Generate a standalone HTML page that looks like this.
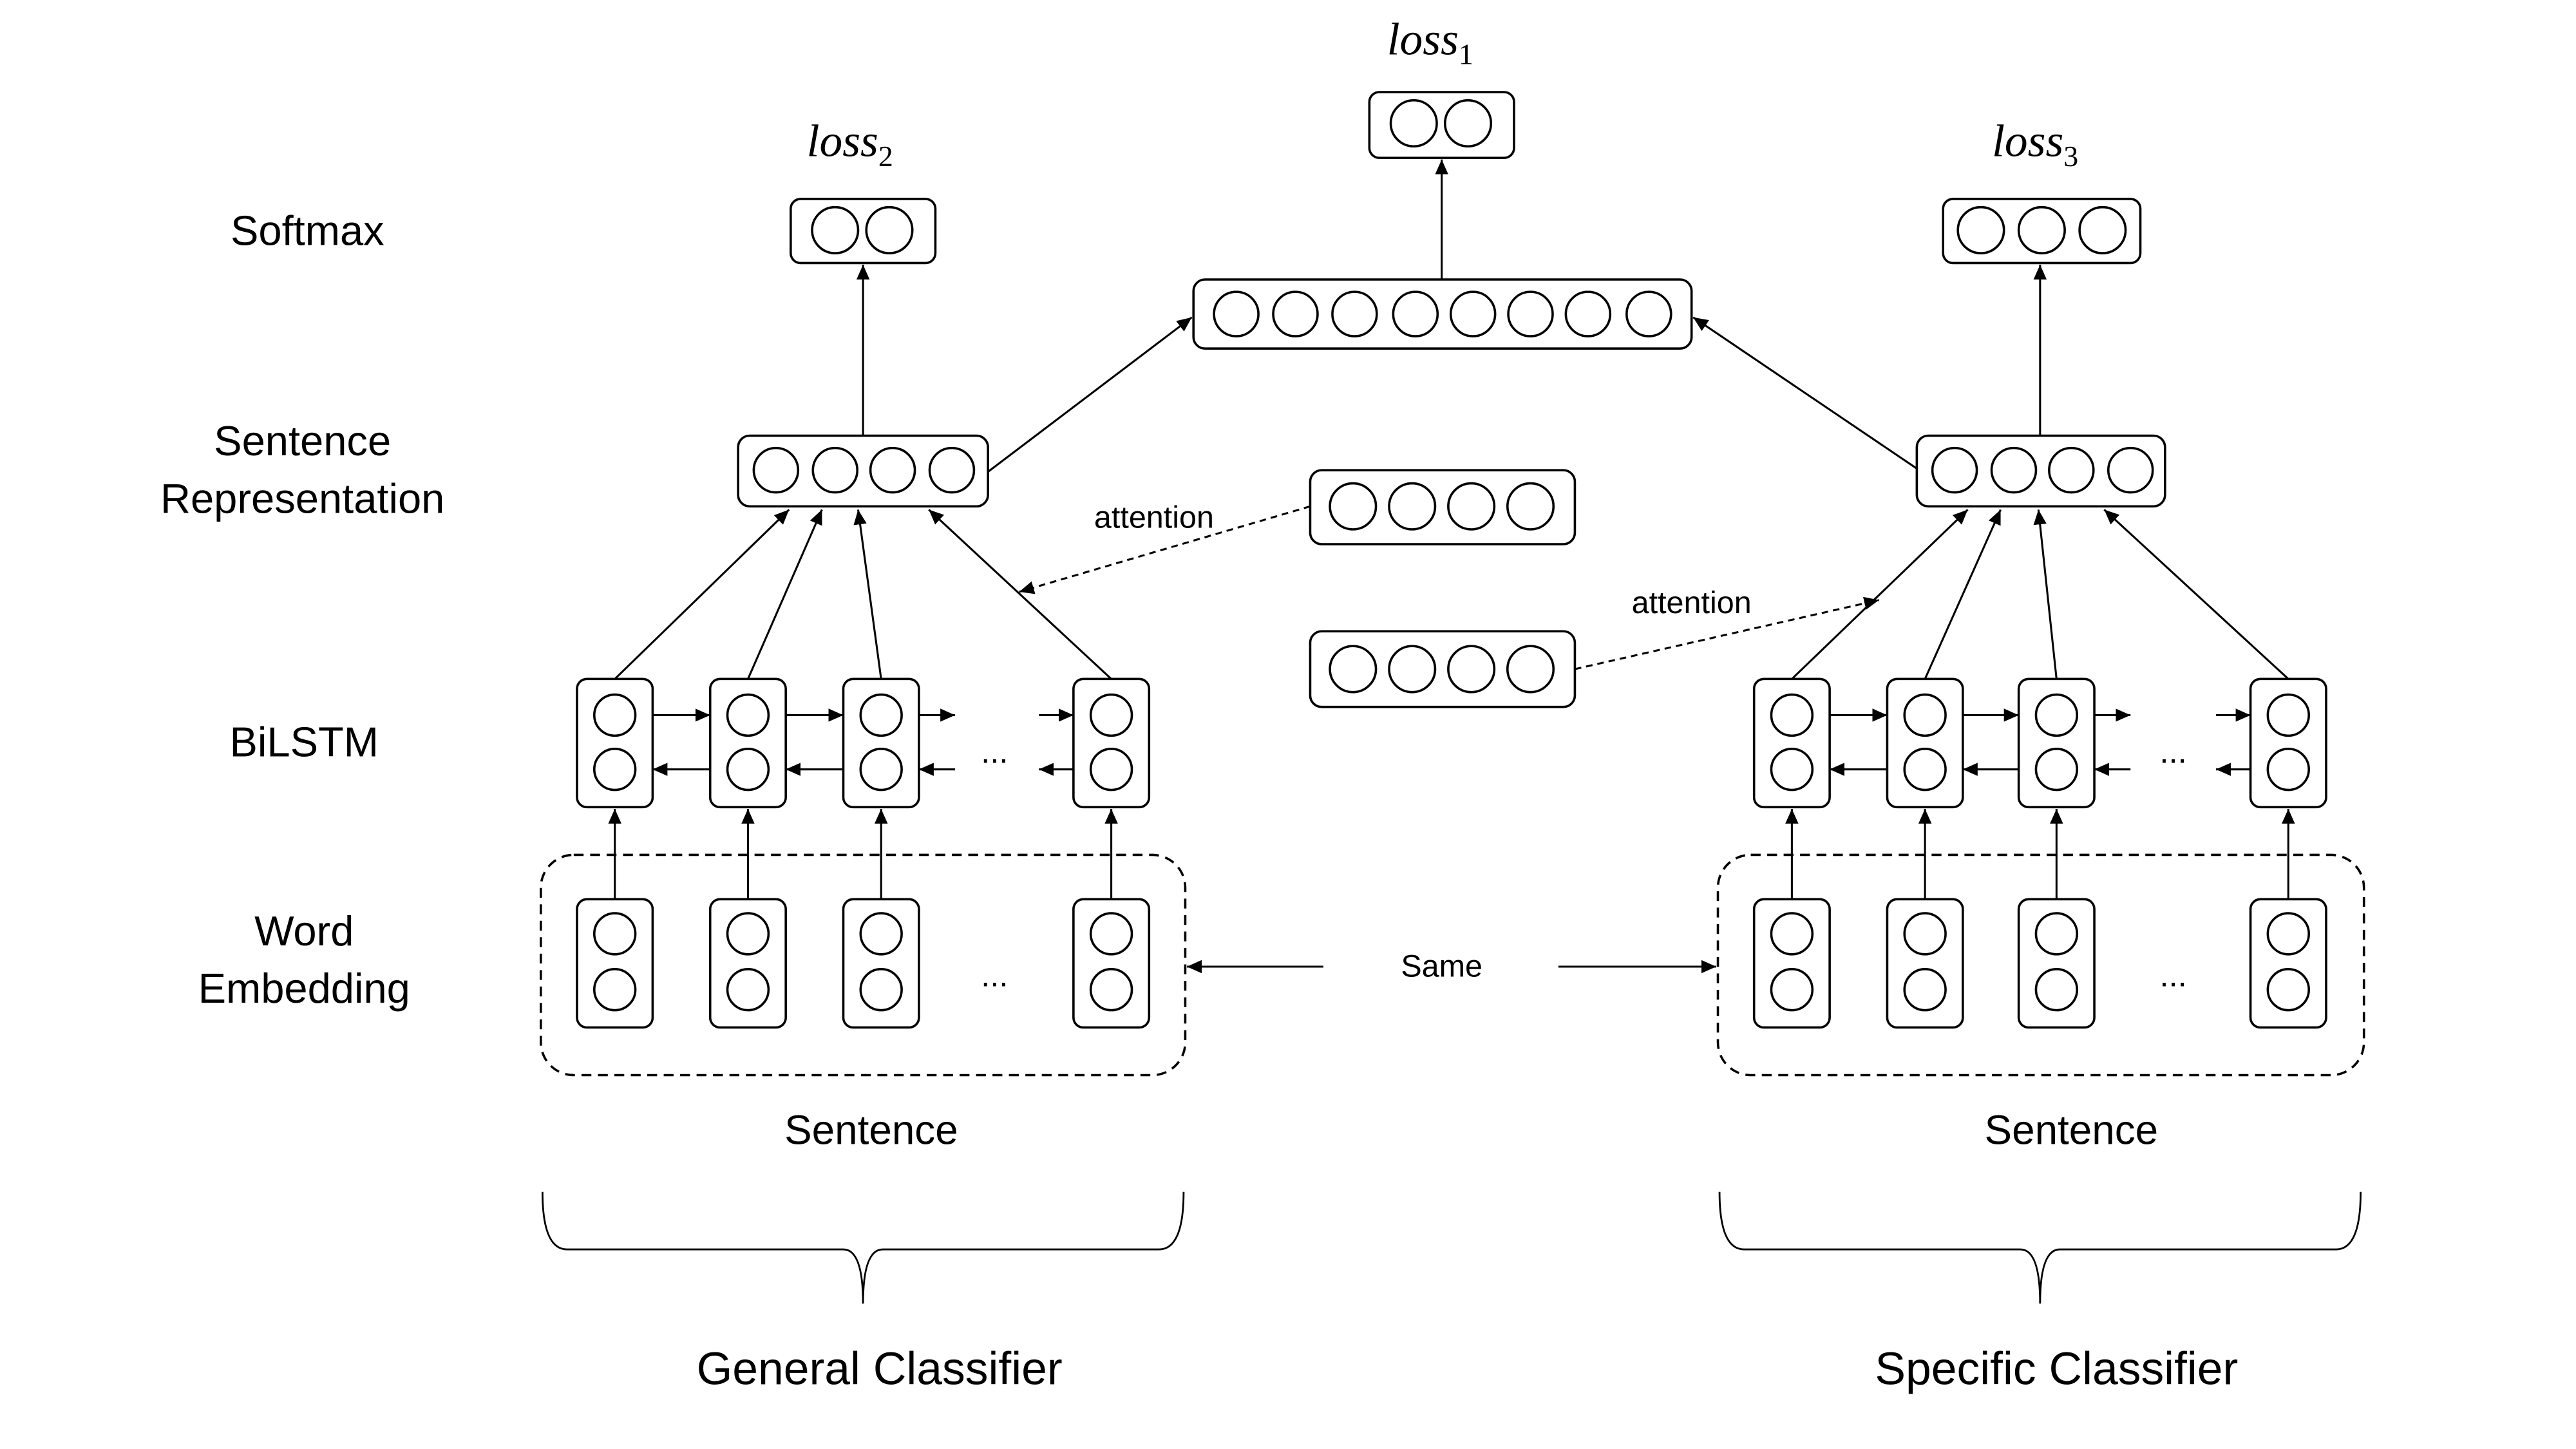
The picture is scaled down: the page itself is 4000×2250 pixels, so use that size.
<!DOCTYPE html>
<html><head><meta charset="utf-8"><style>html,body{margin:0;padding:0;background:#fff}svg{display:block}</style></head>
<body>
<svg width="4000" height="2250" viewBox="0 0 1567 881.4" xmlns="http://www.w3.org/2000/svg">
<defs>
<marker id="a" markerWidth="10" markerHeight="10" refX="9" refY="4" orient="auto" markerUnits="userSpaceOnUse">
<path d="M0,0 L9,4 L0,8 z" fill="#000"/></marker>
</defs>
<rect width="1567" height="882" fill="#fff"/>
<g font-family="Liberation Sans, sans-serif" font-size="25.5" text-anchor="middle" fill="#000">
<text x="187" y="149">Softmax</text>
<text x="184" y="277">Sentence</text>
<text x="184" y="312">Representation</text>
<text x="185" y="460">BiLSTM</text>
<text x="185" y="575">Word</text>
<text x="185" y="610">Embedding</text>
<text x="530" y="696" font-size="25">Sentence</text>
<text x="1260" y="696" font-size="25">Sentence</text>
<text x="535" y="842" font-size="28">General Classifier</text>
<text x="1251" y="842" font-size="28">Specific Classifier</text>
<text x="702" y="321" font-size="19">attention</text>
<text x="1029" y="373" font-size="19">attention</text>
<text x="877" y="594" font-size="19">Same</text>
<text x="605" y="464" font-size="20">...</text>
<text x="605" y="600" font-size="20">...</text>
<text x="1322" y="464" font-size="20">...</text>
<text x="1322" y="600" font-size="20">...</text>
</g>
<g font-family="Liberation Serif, serif" font-style="italic" font-size="28" text-anchor="middle">
<text x="870" y="33">loss<tspan font-size="18" font-style="normal" dy="6">1</tspan></text>
<text x="517" y="95">loss<tspan font-size="18" font-style="normal" dy="6">2</tspan></text>
<text x="1238" y="95">loss<tspan font-size="18" font-style="normal" dy="6">3</tspan></text>
</g>
<g fill="none" stroke="#000" stroke-width="1.4">
<rect x="833" y="56" width="88" height="40" rx="6"/>
<rect x="481" y="121" width="88" height="39" rx="6"/>
<rect x="1182" y="121" width="120" height="39" rx="6"/>
<rect x="726" y="170" width="303" height="42" rx="7"/>
<rect x="449" y="265" width="152" height="43" rx="7"/>
<rect x="1166" y="265" width="151" height="43" rx="7"/>
<rect x="797" y="286" width="161" height="45" rx="7"/>
<rect x="797" y="384" width="161" height="46" rx="7"/>
<rect x="329" y="520" width="392" height="134" rx="20" stroke-dasharray="6,4"/>
<rect x="1045" y="520" width="393" height="134" rx="20" stroke-dasharray="6,4"/>
<circle cx="860" cy="75" r="14"/><circle cx="893" cy="75" r="14"/>
<circle cx="508" cy="140" r="14"/><circle cx="541" cy="140" r="14"/>
<circle cx="1205" cy="140" r="14"/><circle cx="1242" cy="140" r="14"/><circle cx="1279" cy="140" r="14"/>
<circle cx="752" cy="191" r="13.5"/><circle cx="788" cy="191" r="13.5"/><circle cx="824" cy="191" r="13.5"/><circle cx="861" cy="191" r="13.5"/><circle cx="896" cy="191" r="13.5"/><circle cx="931" cy="191" r="13.5"/><circle cx="966" cy="191" r="13.5"/><circle cx="1003" cy="191" r="13.5"/>
<circle cx="472" cy="286" r="13.5"/><circle cx="508" cy="286" r="13.5"/><circle cx="543" cy="286" r="13.5"/><circle cx="579" cy="286" r="13.5"/>
<circle cx="1189" cy="286" r="13.5"/><circle cx="1225" cy="286" r="13.5"/><circle cx="1260" cy="286" r="13.5"/><circle cx="1296" cy="286" r="13.5"/>
<circle cx="823" cy="308" r="14"/><circle cx="859" cy="308" r="14"/><circle cx="895" cy="308" r="14"/><circle cx="931" cy="308" r="14"/>
<circle cx="823" cy="407" r="14"/><circle cx="859" cy="407" r="14"/><circle cx="895" cy="407" r="14"/><circle cx="931" cy="407" r="14"/>
</g>
<g id="cells" fill="none" stroke="#000" stroke-width="1.2">
</g>
<script>
(function(){
var ns="http://www.w3.org/2000/svg",g=document.getElementById("cells");
function el(t,a){var e=document.createElementNS(ns,t);for(var k in a)e.setAttribute(k,a[k]);g.appendChild(e);return e;}
function cell(cx,y0,y1,c1,c2){el("rect",{x:cx-23,y:y0,width:46,height:y1-y0,rx:6,"stroke-width":1.4});el("circle",{cx:cx,cy:c1,r:12.5,"stroke-width":1.4});el("circle",{cx:cx,cy:c2,r:12.5,"stroke-width":1.4});}
function line(x1,y1,x2,y2,d){var e=el("line",{x1:x1,y1:y1,x2:x2,y2:y2,"marker-end":"url(#a)"});if(d)e.setAttribute("stroke-dasharray","4,3");return e;}
var sets=[[374,455,536,676],[1090,1171,1251,1392]];
var tg=[[[480,310],[500,310],[522,310],[565,310]],[[1197,310],[1217,310],[1240,310],[1280,310]]];
sets.forEach(function(s,i){
 s.forEach(function(cx,j){cell(cx,413,491,435,468);cell(cx,547,625,568,602);line(cx,547,cx,492);line(cx,413,tg[i][j][0],tg[i][j][1]);});
 line(s[0]+23,435,s[1]-23,435);line(s[1]+23,435,s[2]-23,435);line(s[2]+23,435,s[2]+45,435);line(s[3]-44,435,s[3]-23,435);
 line(s[1]-23,468,s[0]+23,468);line(s[2]-23,468,s[1]+23,468);line(s[2]+45,468,s[2]+23,468);line(s[3]-23,468,s[3]-44,468);
});
line(877,170,877,97);line(525,265,525,161);line(1241,265,1241,161);
line(601,287,725,193);line(1166,285,1030,193);
line(797,308,620,360,true);line(958,407,1143,365,true);
line(805,588,722,588);line(948,588,1044,588);
function brace(x1,x2,xm){el("path",{d:"M"+x1+",725 Q"+x1+",760 "+(x1+15)+",760 L"+(xm-12)+",760 Q"+xm+",760 "+xm+",793 Q"+xm+",760 "+(xm+12)+",760 L"+(x2-15)+",760 Q"+x2+",760 "+x2+",725","stroke-width":1.1});}
brace(330,720,525);brace(1046,1436,1241);
})();
</script>
</svg>
</body></html>
